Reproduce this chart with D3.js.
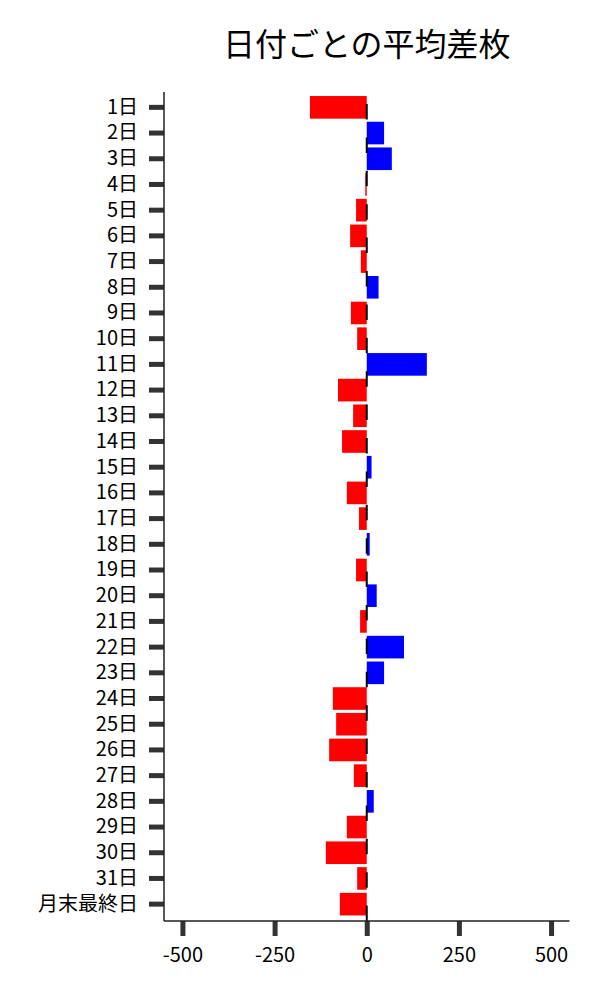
<!DOCTYPE html>
<html>
<head>
<meta charset="utf-8">
<script src="https://cdn.jsdelivr.net/npm/d3@7"></script>
<style>
  html, body { margin: 0; padding: 0; background: #fff; }
  svg { display: block; font-family: "Noto Sans CJK JP", "Noto Sans", sans-serif; }
</style>
</head>
<body>
<svg id="chart" width="600" height="1000"></svg>
<script>
const categories = ["1日","2日","3日","4日","5日","6日","7日","8日","9日","10日",
  "11日","12日","13日","14日","15日","16日","17日","18日","19日","20日",
  "21日","22日","23日","24日","25日","26日","27日","28日","29日","30日","31日","月末最終日"];
const values = [-154, 47, 68, -4, -29, -45, -16, 32, -43, -26,
  163, -78, -37, -67, 13, -54, -21, 8, -29, 27,
  -18, 101, 47, -92, -83, -102, -35, 19, -54, -111, -26, -73];
const xTicks = [-500, -250, 0, 250, 500];
const title = "日付ごとの平均差枚";

(function () {
const svg = d3.select("#chart");
const mLeft = 164, mRight = 569.5, mTop = 92, mBottom = 921;

const x = d3.scaleLinear().domain([-550, 550]).range([mLeft, mRight]);
const y = d3.scaleBand().domain(categories).range([94.5, 917])
  .paddingInner(0.12).paddingOuter(0.06);

// bars
svg.append("g").selectAll("rect").data(categories).join("rect")
  .attr("x", (d, i) => x(Math.min(0, values[i])))
  .attr("width", (d, i) => Math.abs(x(values[i]) - x(0)))
  .attr("y", d => y(d))
  .attr("height", y.bandwidth())
  .attr("fill", (d, i) => values[i] < 0 ? "#ff0000" : "#0000ff");

// dashed zero line
svg.append("line")
  .attr("x1", x(0)).attr("x2", x(0))
  .attr("y1", mTop).attr("y2", mBottom)
  .attr("stroke", "#000").attr("stroke-width", 2)
  .attr("stroke-dasharray", "15.5 17.9")
  .attr("stroke-dashoffset", 21.4);

// y axis
const yAxis = svg.append("g").attr("transform", `translate(${mLeft},0)`)
  .call(d3.axisLeft(y).tickSize(15).tickPadding(11));
yAxis.select(".domain").remove();
yAxis.selectAll(".tick line").attr("stroke", "#333").attr("stroke-width", 5);
yAxis.selectAll(".tick text").attr("font-size", 20).attr("fill", "#000")
  .attr("font-family", "Noto Sans CJK JP");
svg.append("line").attr("x1", mLeft).attr("x2", mLeft).attr("y1", mTop).attr("y2", mBottom)
  .attr("stroke", "#222").attr("stroke-width", 1.5);

// x axis
const xAxis = svg.append("g").attr("transform", `translate(0,${mBottom})`)
  .call(d3.axisBottom(x).tickValues(xTicks).tickSize(15).tickPadding(12).tickFormat(d => String(d)));
xAxis.select(".domain").remove();
xAxis.selectAll(".tick line").attr("stroke", "#333").attr("stroke-width", 5);
xAxis.selectAll(".tick text").attr("font-size", 20).attr("fill", "#000")
  .attr("font-family", "Noto Sans CJK JP");
svg.append("line").attr("x1", mLeft).attr("x2", mRight).attr("y1", mBottom).attr("y2", mBottom)
  .attr("stroke", "#222").attr("stroke-width", 1.5);

// title
svg.append("text").attr("x", (mLeft + mRight) / 2).attr("y", 56)
  .attr("text-anchor", "middle").attr("font-size", 32).attr("fill", "#000")
  .text(title);
})();
</script>
</body>
</html>
